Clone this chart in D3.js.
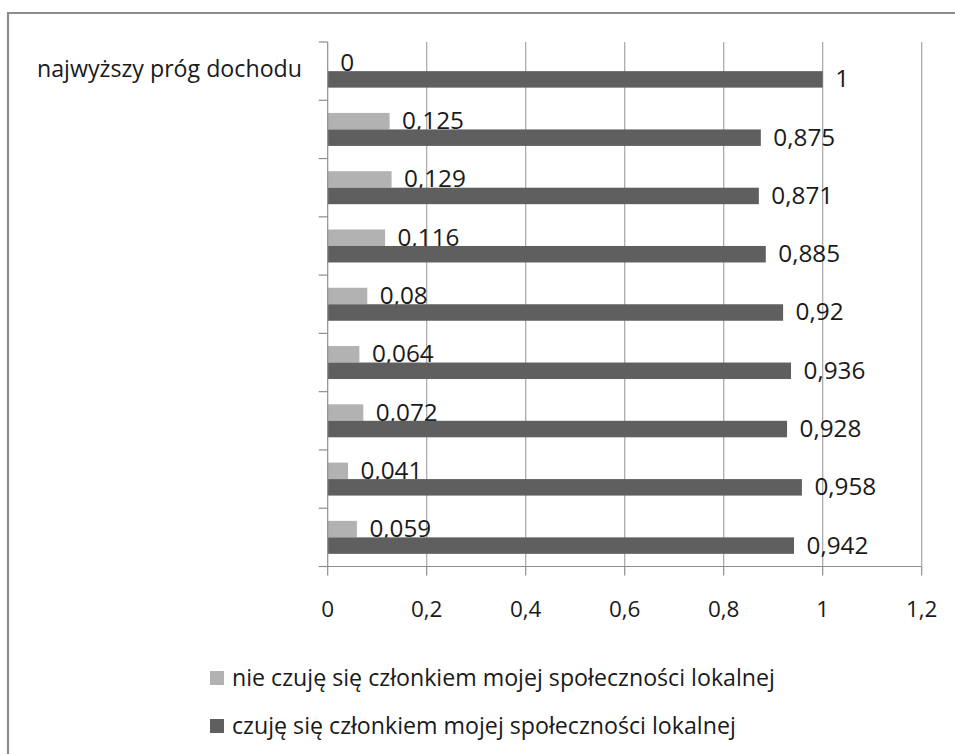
<!DOCTYPE html>
<html><head><meta charset="utf-8">
<script src="https://cdn.jsdelivr.net/npm/d3@7"></script>
<style>body{margin:0;background:#fff}svg{display:block}text{font-family:"Open Sans","Noto Sans",sans-serif;fill:#1a1a1a}</style>
</head><body>
<svg id="c" width="955" height="754"></svg>
<script>
const categories = ["najwyższy próg dochodu", "", "", "", "", "", "", "", ""];
const seriesNames = ["nie czuję się członkiem mojej społeczności lokalnej", "czuję się członkiem mojej społeczności lokalnej"];
const notMember = [0, 0.125, 0.129, 0.116, 0.08, 0.064, 0.072, 0.041, 0.059];
const member = [1, 0.875, 0.871, 0.885, 0.92, 0.936, 0.928, 0.958, 0.942];
const tickValues = [0, 0.2, 0.4, 0.6, 0.8, 1, 1.2];
const colors = ["#b2b2b2", "#5f5f5f"];

(function () {
const svg = d3.select("#c");
const fmt = v => String(+v.toFixed(3)).replace(".", ",");

// outer border (only top and left visible)
svg.append("path").attr("d", "M8,755 L8,13 L956,13").attr("fill", "none").attr("stroke", "#8c8c8c").attr("stroke-width", 2.2);

const pLeft = 327.7, pRight = 921.7, pTop = 42, pBottom = 566.5;
const x = d3.scaleLinear().domain([0, 1.2]).range([pLeft, pRight]);
const keys = categories.map((c, i) => i);
const y = d3.scaleBand().domain(keys).range([pTop, pBottom]).paddingInner(0.434).paddingOuter(0.217);
const ys = d3.scaleBand().domain([0, 1]).range([0, y.bandwidth()]);

// gridlines
svg.append("g").selectAll("line").data(tickValues.slice(1)).join("line")
  .attr("x1", d => x(d)).attr("x2", d => x(d)).attr("y1", pTop).attr("y2", pBottom)
  .attr("stroke", "#a6a6a6").attr("stroke-width", 1.2);

// bars
const data = [notMember, member];
data.forEach((arr, s) => {
  svg.append("g").selectAll("rect").data(arr).join("rect")
    .attr("x", x(0)).attr("y", (d, i) => y(i) + ys(s))
    .attr("width", d => x(d) - x(0)).attr("height", ys.bandwidth())
    .attr("fill", colors[s]);
  svg.append("g").selectAll("text").data(arr).join("text")
    .attr("x", d => x(d) + 12.5)
    .attr("y", (d, i) => y(i) + ys(s) + ys.bandwidth() / 2 + 1.5)
    .attr("dominant-baseline", "middle")
    .attr("font-size", 24.3)
    .text(d => fmt(d));
});

// y axis
const yAxisLine = svg.append("g");
yAxisLine.append("line").attr("x1", pLeft).attr("x2", pLeft).attr("y1", pTop).attr("y2", pBottom).attr("stroke", "#8e8e8e").attr("stroke-width", 1.2);
const boundaries = keys.map(k => y(k) - y.step() * 0.217).concat([pBottom]);
yAxisLine.selectAll("line.t").data(boundaries).join("line").attr("class", "t")
  .attr("x1", pLeft - 9).attr("x2", pLeft).attr("y1", d => d).attr("y2", d => d)
  .attr("stroke", "#8e8e8e").attr("stroke-width", 1.2);
svg.append("g").selectAll("text").data(categories).join("text")
  .attr("x", 302).attr("y", (d, i) => y(i) + ys(0) + ys.bandwidth() - 0.5)
  .attr("text-anchor", "end").attr("dominant-baseline", "middle")
  .attr("font-size", 23.2).text(d => d);

// x axis
const xa = svg.append("g");
xa.append("line").attr("x1", pLeft).attr("x2", pRight).attr("y1", pBottom).attr("y2", pBottom).attr("stroke", "#8e8e8e").attr("stroke-width", 1.2);
xa.selectAll("line.t").data(tickValues).join("line").attr("class", "t")
  .attr("x1", d => x(d)).attr("x2", d => x(d)).attr("y1", pBottom).attr("y2", pBottom + 9)
  .attr("stroke", "#8e8e8e").attr("stroke-width", 1.2);
xa.selectAll("text").data(tickValues).join("text")
  .attr("x", d => x(d)).attr("y", 617.3).attr("text-anchor", "middle")
  .attr("font-size", 22.5).text(d => fmt(d));

// legend
const lg = svg.append("g").selectAll("g").data(seriesNames).join("g")
  .attr("transform", (d, i) => `translate(210,${671 + i * 48})`);
lg.append("rect").attr("width", 14).attr("height", 14).attr("fill", (d, i) => colors[i]);
lg.append("text").attr("x", 22).attr("y", 15).attr("font-size", 23.2).text(d => d);
})();
</script>
</body></html>
